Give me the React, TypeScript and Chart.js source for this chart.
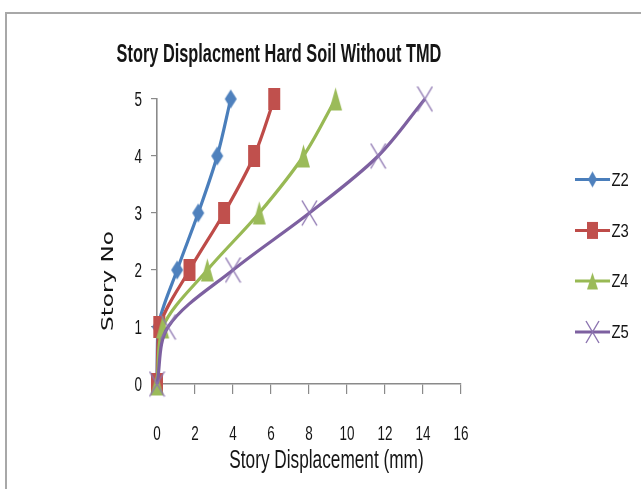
import { useEffect, useRef } from 'react';
import { Chart, registerables } from 'chart.js';
Chart.register(...registerables);

const stories = [0, 1, 2, 3, 4, 5];
const z2 = [0, 0.05, 1.06, 2.17, 3.17, 3.88];
const z3 = [0, 0.12, 1.71, 3.53, 5.11, 6.17];
const z4 = [0, 0.3, 2.65, 5.38, 7.71, 9.4];
const z5 = [0, 0.58, 4.0, 8.02, 11.64, 14.1];
const seriesNames = ['Z2', 'Z3', 'Z4', 'Z5'];
const xTickValues = [0, 2, 4, 6, 8, 10, 12, 14, 16];
const yTickValues = [0, 1, 2, 3, 4, 5];
const chartTitle = 'Story Displacment Hard Soil Without TMD';
const xTitle = 'Story Displacement (mm)';
const yTitle = 'Story No';

const FONT = '"Liberation Sans Narrow", "Liberation Sans", Arial, sans-serif';
const AXIS = '#8a8a8a';

type FitOpts = { capH: number; width?: number; charW?: number; bold?: boolean; align: CanvasTextAlign; rot?: boolean; color?: string; font?: string };

function drawFit(ctx: CanvasRenderingContext2D, text: string, x: number, y: number, o: FitOpts) {
  ctx.save();
  ctx.font = `${o.bold ? 'bold ' : ''}40px ${o.font || FONT}`;
  const capM = ctx.measureText('H').actualBoundingBoxAscent || 29;
  const sy = o.capH / capM;
  let sx = sy;
  if (o.width) {
    const m = ctx.measureText(text);
    const ink = (m.actualBoundingBoxLeft || 0) + (m.actualBoundingBoxRight || m.width);
    sx = o.width / ink;
  } else if (o.charW) {
    sx = o.charW / ctx.measureText('0').width;
  }
  ctx.translate(x, y);
  if (o.rot) ctx.rotate(-Math.PI / 2);
  ctx.scale(sx, sy);
  ctx.textAlign = o.align;
  ctx.textBaseline = 'alphabetic';
  ctx.fillStyle = o.color || '#151515';
  ctx.fillText(text, 0, 0);
  ctx.restore();
}

function marker(kind: string, w: number, h: number, fill: string, stroke?: string): HTMLCanvasElement {
  const c = document.createElement('canvas');
  c.width = w + 2;
  c.height = h + 2;
  const g = c.getContext('2d')!;
  const cx = c.width / 2, cy = c.height / 2;
  g.fillStyle = fill;
  g.beginPath();
  if (kind === 'diamond') {
    g.moveTo(cx, 1); g.lineTo(w + 1, cy); g.lineTo(cx, h + 1); g.lineTo(1, cy); g.closePath(); g.fill();
  } else if (kind === 'square') {
    g.fillRect(1, 1, w, h);
  } else if (kind === 'triangle') {
    g.moveTo(cx, 1); g.lineTo(w + 1, h + 1); g.lineTo(1, h + 1); g.closePath(); g.fill();
  } else {
    g.strokeStyle = stroke || fill;
    g.lineWidth = 1.4;
    g.moveTo(1, 1); g.lineTo(w + 1, h + 1);
    g.moveTo(w + 1, 1); g.lineTo(1, h + 1);
    g.stroke();
  }
  return c;
}

export default function App() {
  const ref = useRef<HTMLCanvasElement>(null);
  useEffect(() => {
    const lineColors = ['#4A7EBB', '#BE4B48', '#98B954', '#7D60A0'];
    const markers = [
      marker('diamond', 12, 19, '#4F81BD'),
      marker('square', 12, 22, '#C0504D'),
      marker('triangle', 13, 23, '#9BBB59'),
      marker('cross', 15, 25, '#8C74B0', '#8C74B0'),
    ];
    const legMarkers = [
      marker('diamond', 9, 16, '#4F81BD'),
      marker('square', 11, 17, '#C0504D'),
      marker('triangle', 11, 17, '#9BBB59'),
      marker('cross', 13, 22, '#8C74B0', '#8C74B0'),
    ];
    const series = [z2, z3, z4, z5];
    const textPlugin = {
      id: 'texts',
      beforeDraw(chart: any) {
        const ctx = chart.ctx as CanvasRenderingContext2D;
        ctx.save();
        ctx.fillStyle = '#fff';
        ctx.fillRect(0, 0, chart.width, chart.height);
        ctx.strokeStyle = '#a8a8a8';
        ctx.lineWidth = 2;
        ctx.strokeRect(6, 13, 800, 700);
        ctx.restore();
      },
      afterDraw(chart: any) {
        const ctx = chart.ctx as CanvasRenderingContext2D;
        const xs = chart.scales.x, ys = chart.scales.y;
        drawFit(ctx, chartTitle, 279, 61.5, { capH: 18, width: 324, bold: true, align: 'center' });
        drawFit(ctx, xTitle, 326.5, 468, { capH: 17.5, width: 193, align: 'center' });
        drawFit(ctx, yTitle, 113, 281, { capH: 11.5, width: 98, align: 'center', rot: true, font: '"DejaVu Sans", sans-serif' });
        xTickValues.forEach((v) => {
          drawFit(ctx, String(v), xs.getPixelForValue(v), 440, { capH: 14.5, charW: 7.5, align: 'center' });
        });
        yTickValues.forEach((v) => {
          drawFit(ctx, String(v), 142, ys.getPixelForValue(v) + 7, { capH: 14, charW: 7.5, align: 'right' });
        });
        const bases = [185.7, 236.7, 287.3, 338.3];
        seriesNames.forEach((n, i) => {
          const cy = bases[i] - 6.3;
          ctx.save();
          ctx.strokeStyle = lineColors[i];
          ctx.lineWidth = 3;
          ctx.beginPath();
          ctx.moveTo(575, cy);
          ctx.lineTo(610, cy);
          ctx.stroke();
          const m = legMarkers[i];
          ctx.drawImage(m, 592.5 - m.width / 2, cy - m.height / 2);
          ctx.restore();
          drawFit(ctx, n, 611.5, bases[i], { capH: 12.3, width: 16.5, align: 'left' });
        });
      },
    };
    const chart = new Chart(ref.current!, {
      type: 'line',
      data: {
        datasets: series.map((s, i) => ({
          label: seriesNames[i],
          data: s.map((x, j) => ({ x, y: stories[j] })),
          borderColor: lineColors[i],
          backgroundColor: lineColors[i],
          borderWidth: 3.2,
          tension: 0.33,
          pointStyle: markers[i] as any,
          pointRadius: 8,
          fill: false,
          clip: false as any,
          order: 3 - i,
        })),
      },
      options: {
        responsive: false,
        animation: false,
        events: [],
        layout: { padding: { top: 99, right: 180, left: 0, bottom: 0 } },
        plugins: { legend: { display: false }, title: { display: false }, tooltip: { enabled: false } },
        scales: {
          x: {
            type: 'linear',
            min: 0,
            max: 16,
            ticks: { stepSize: 2, display: false },
            grid: { drawOnChartArea: false, drawTicks: true, tickLength: 10, color: AXIS, lineWidth: 1.2 },
            border: { display: true, color: AXIS, width: 1.6 },
            afterFit: (s: any) => { s.height = 105; },
          },
          y: {
            type: 'linear',
            min: 0,
            max: 5,
            ticks: { stepSize: 1, display: false },
            grid: { drawOnChartArea: false, drawTicks: true, tickLength: 6, color: AXIS, lineWidth: 1.2 },
            border: { display: true, color: AXIS, width: 1.6 },
            afterFit: (s: any) => { s.width = 157; },
          },
        },
      },
      plugins: [textPlugin],
    });
    return () => chart.destroy();
  }, []);
  return (
    <div style={{ position: 'fixed', left: 0, top: 0, width: 641, height: 489, background: '#fff' }}>
      <canvas ref={ref} width={641} height={489} style={{ width: 641, height: 489, display: 'block' }} />
    </div>
  );
}
